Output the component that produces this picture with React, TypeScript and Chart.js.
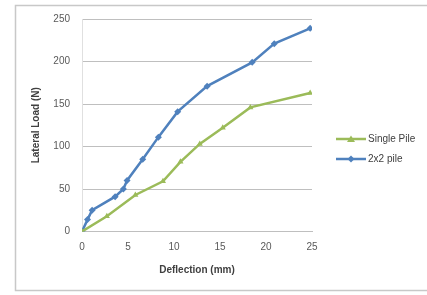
import React, { useEffect, useRef } from "react";
import { Chart, registerables } from "chart.js";

Chart.register(...registerables);

const singleX = [0, 2.7, 5.8, 8.8, 10.7, 12.8, 15.3, 18.3, 24.8];
const singleY = [0, 18, 43, 59, 82, 103, 122, 146, 163];
const groupX = [0, 0.6, 1.1, 3.6, 4.5, 4.9, 6.6, 8.3, 10.4, 13.6, 18.5, 20.9, 24.8];
const groupY = [0, 14, 25, 41, 50, 60, 85, 111, 141, 171, 199, 221, 239];
const seriesNames = ["Single Pile", "2x2 pile"];
const seriesColors = ["#9BBB59", "#4F81BD"];
const xTitle = "Deflection (mm)";
const yTitle = "Lateral Load (N)";

const FONT = "'Liberation Sans', Arial, sans-serif";

const framePlugin = {
  id: "frame",
  beforeDraw(chart: any) {
    const ctx = chart.ctx;
    ctx.save();
    ctx.fillStyle = "#ffffff";
    ctx.fillRect(0, 0, chart.width, chart.height);
    ctx.strokeStyle = "#c8c8c8";
    ctx.lineWidth = 1.5;
    ctx.strokeRect(15.5, 5.5, chart.width + 10, 285);
    ctx.restore();
  },
};

const legendPlugin = {
  id: "customLegend",
  afterDraw(chart: any) {
    const ctx = chart.ctx;
    ctx.save();
    const ys = [139, 159];
    chart.data.datasets.forEach((ds: any, i: number) => {
      const y = ys[i];
      ctx.strokeStyle = ds.borderColor;
      ctx.lineWidth = 2.5;
      ctx.beginPath();
      ctx.moveTo(336, y);
      ctx.lineTo(366, y);
      ctx.stroke();
      ctx.fillStyle = ds.borderColor;
      ctx.beginPath();
      if (i === 0) {
        ctx.moveTo(351, y - 3.5);
        ctx.lineTo(355, y + 3);
        ctx.lineTo(347, y + 3);
      } else {
        ctx.moveTo(351, y - 3.5);
        ctx.lineTo(354.5, y);
        ctx.lineTo(351, y + 3.5);
        ctx.lineTo(347.5, y);
      }
      ctx.closePath();
      ctx.fill();
      ctx.fillStyle = "#404040";
      ctx.font = `10px ${FONT}`;
      ctx.textAlign = "left";
      ctx.textBaseline = "middle";
      ctx.fillText(ds.label, 368, y);
    });
    ctx.restore();
  },
};

export default function App() {
  const ref = useRef<HTMLCanvasElement | null>(null);
  useEffect(() => {
    if (!ref.current) return;
    const chart = new Chart(ref.current, {
      type: "line",
      data: {
        datasets: [
          {
            label: seriesNames[0],
            data: singleX.map((x, i) => ({ x, y: singleY[i] })),
            borderColor: seriesColors[0],
            backgroundColor: seriesColors[0],
            borderWidth: 2.5,
            pointStyle: "triangle",
            pointRadius: 3.5,
            pointBorderWidth: 0,
            tension: 0,
          },
          {
            label: seriesNames[1],
            data: groupX.map((x, i) => ({ x, y: groupY[i] })),
            borderColor: seriesColors[1],
            backgroundColor: seriesColors[1],
            borderWidth: 2.5,
            pointStyle: "rectRot",
            pointRadius: 3.5,
            pointBorderWidth: 0,
            tension: 0,
          },
        ],
      },
      options: {
        animation: false,
        responsive: false,
        maintainAspectRatio: false,
        layout: { padding: { top: 19, left: 15, right: 115, bottom: 13.5 } },
        plugins: { legend: { display: false }, tooltip: { enabled: false } },
        scales: {
          x: {
            type: "linear",
            min: 0,
            max: 25,
            afterFit: (s: any) => { s.height = 50; },
            ticks: { stepSize: 5, padding: 10, color: "#595959", font: { family: FONT, size: 10 }, maxRotation: 0 },
            grid: { display: false, drawTicks: false },
            border: { display: true, color: "#bfbfbf", width: 1 },
            title: { display: true, text: xTitle, color: "#404040", font: { family: FONT, size: 10, weight: "bold" }, padding: { top: 0, bottom: 5 } },
          },
          y: {
            type: "linear",
            min: 0,
            max: 250,
            afterFit: (s: any) => { s.width = 67; },
            ticks: { stepSize: 50, padding: 12, color: "#595959", font: { family: FONT, size: 10 } },
            grid: { color: "#bfbfbf", lineWidth: 1, drawTicks: false },
            border: { display: true, color: "#e0e0e0", width: 1 },
            title: { display: true, text: yTitle, color: "#404040", font: { family: FONT, size: 10, weight: "bold" }, padding: { top: 15, bottom: 0 } },
          },
        },
      },
      plugins: [framePlugin, legendPlugin],
    } as any);
    return () => chart.destroy();
  }, []);
  return (
    <div style={{ position: "fixed", left: 0, top: 0, width: 427, height: 295 }}>
      <canvas ref={ref} width={427} height={295} style={{ width: 427, height: 295, display: "block" }} />
    </div>
  );
}
